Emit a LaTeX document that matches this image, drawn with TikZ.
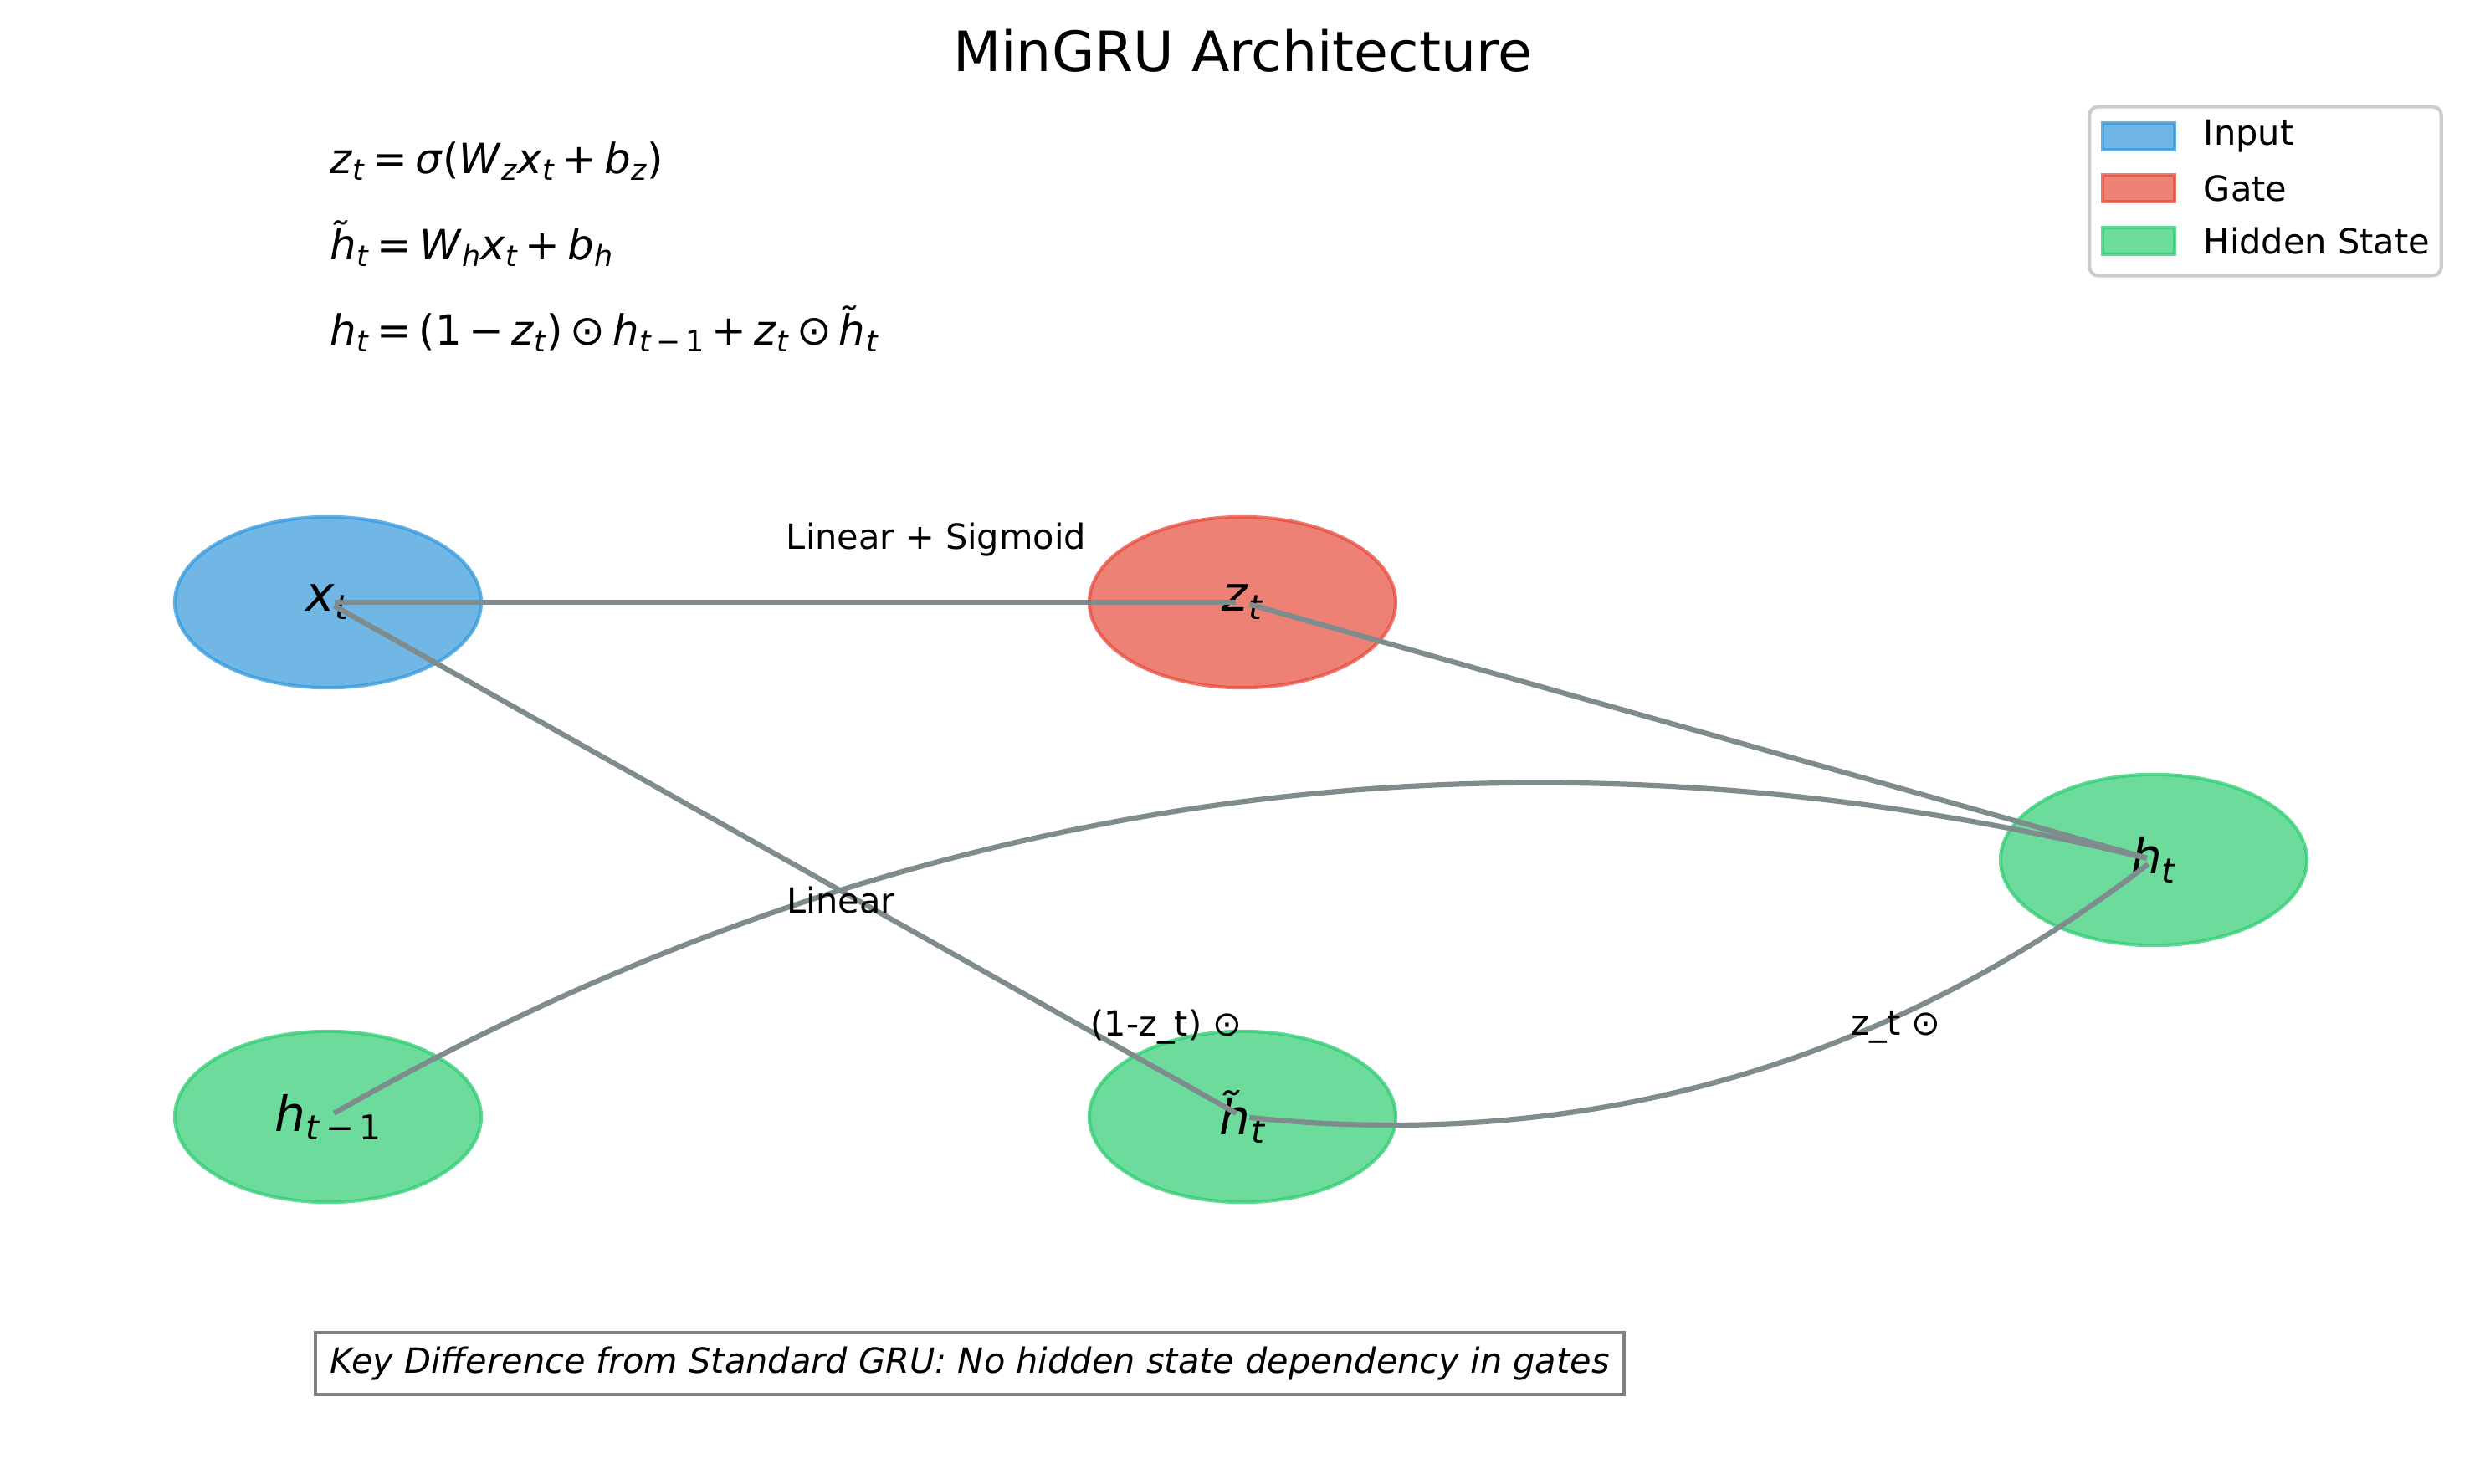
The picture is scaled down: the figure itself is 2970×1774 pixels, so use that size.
\documentclass[tikz,border=0pt]{standalone}
\usepackage{fontspec}
\usepackage{graphicx}
\setmainfont{DejaVu Sans}
\usetikzlibrary{shapes.geometric,calc}
\definecolor{cin}{HTML}{3498DB}
\definecolor{cgate}{HTML}{E74C3C}
\definecolor{chid}{HTML}{2ECC71}
\definecolor{cedge}{HTML}{7F8C8D}
\definecolor{clegend}{HTML}{CCCCCC}
\newcommand\mi[1]{\textit{#1}}
\newcommand\sbs[1]{\raisebox{-0.32ex}{\scalebox{0.7}{#1}}}
\newcommand\op[1]{\hspace{0.18em}#1\hspace{0.18em}}
\begin{document}
\begin{tikzpicture}[x=0.084667mm,y=-0.084667mm,
  nodebase/.style={ellipse, inner sep=0pt, minimum width=31mm, minimum height=17.3mm,
    line width=1pt, fill opacity=0.7, draw opacity=0.75, text opacity=1,
    font=\fontsize{14}{17}\selectfont},
  innode/.style={nodebase, fill=cin, draw=cin},
  gatenode/.style={nodebase, fill=cgate, draw=cgate},
  hidnode/.style={nodebase, fill=chid, draw=chid},
  conn/.style={draw=cedge, line width=1.5pt, shorten >=2pt, shorten <=2pt},
  elabel/.style={font=\fontsize{10}{12}\selectfont, inner sep=0pt},
  formula/.style={font=\fontsize{12}{14}\selectfont, anchor=base west, inner sep=0pt},
  legpatch/.style={minimum width=7.3mm, minimum height=2.65mm, inner sep=0pt, line width=1pt,
    fill opacity=0.7, draw opacity=0.75},
  legtext/.style={font=\fontsize{10}{12}\selectfont, anchor=west, inner sep=0pt}
]
\useasboundingbox (0,0) rectangle (2970,1774);

% title
\node[font=\fontsize{16}{19}\selectfont, inner sep=0pt] (title) at (1485,61) {MinGRU Architecture};

% formulas
\node[formula] (f1) at (394,207) {\mi{z}\sbs{\mi{t}}\op{=}\mi{σ}(\mi{W}\sbs{\mi{z}}\mi{x}\sbs{\mi{t}}\op{+}\mi{b}\sbs{\mi{z}})};
\node[formula] (f2) at (394,310) {\mi{\~{h}}\sbs{\mi{t}}\op{=}\mi{W}\sbs{\mi{h}}\mi{x}\sbs{\mi{t}}\op{+}\mi{b}\sbs{\mi{h}}};
\node[formula] (f3) at (394,412) {\mi{h}\sbs{\mi{t}}\op{=}(1\op{−}\mi{z}\sbs{\mi{t}})\op{⊙}\mi{h}\sbs{\mi{t}\,−\,1}\op{+}\mi{z}\sbs{\mi{t}}\op{⊙}\mi{\~{h}}\sbs{\mi{t}}};

% legend
\node[draw=clegend, line width=1pt, fill=white, rounded corners=2.5pt, minimum width=35.6mm, minimum height=17.1mm, inner sep=0pt] (legend) at (2707.5,228.5) {};
\node[legpatch, fill=cin, draw=cin] (lp1) at (2556,163) {};
\node[legpatch, fill=cgate, draw=cgate] (lp2) at (2556,225) {};
\node[legpatch, fill=chid, draw=chid] (lp3) at (2556,288) {};
\node[legtext] (lt1) at (2633,163) {Input};
\node[legtext] (lt2) at (2633,225) {Gate};
\node[legtext] (lt3) at (2633,288) {Hidden State};

% nodes
\node[innode] (xt) at (392,720) {\mi{x}\sbs{\mi{t}}};
\node[gatenode] (zt) at (1485,720) {\mi{z}\sbs{\mi{t}}};
\node[hidnode] (ht) at (2574,1028) {\mi{h}\sbs{\mi{t}}};
\node[hidnode] (hprev) at (392,1335) {\mi{h}\sbs{\mi{t}\,−\,1}};
\node[hidnode] (htil) at (1485,1335) {\mi{\~{h}}\sbs{\mi{t}}};

% control points of the curved connectors
\coordinate (q1) at (1422,745.5);
\coordinate (q2) at (2091,1399);

% connectors
\draw[conn] (xt.center) -- (zt.center);
\draw[conn] (xt.center) -- (htil.center);
\draw[conn] (zt.center) -- (ht.center);
\draw[conn] (hprev.center) .. controls ($(hprev.center)!0.6667!(q1)$) and ($(ht.center)!0.6667!(q1)$) .. (ht.center);
\draw[conn] (htil.center) .. controls ($(htil.center)!0.6667!(q2)$) and ($(ht.center)!0.6667!(q2)$) .. (ht.center);

% connector labels
\node[elabel] (l1) at (1119,645) {Linear + Sigmoid};
\node[elabel] (l2) at (1005,1076) {Linear};
\node[elabel] (l3) at (1394,1228) {(1-z\_t) ⊙};
\node[elabel] (l4) at (2266,1228) {z\_t ⊙};

% bottom note
\node[draw=gray, line width=1pt, fill=white, minimum width=132.4mm, minimum height=6.27mm, inner sep=0pt,
  font=\fontsize{10}{12}\selectfont\itshape] (note) at (1159,1630) {Key Difference from Standard GRU: No hidden state dependency in gates};
\end{tikzpicture}
\end{document}
